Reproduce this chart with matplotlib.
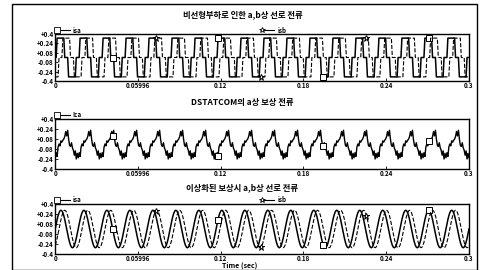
import numpy as np
import matplotlib
matplotlib.use("Agg")
import matplotlib.pyplot as plt
from matplotlib.lines import Line2D
from matplotlib.patches import Rectangle

plt.rcParams['font.family'] = ['Noto Sans CJK KR', 'DejaVu Sans']

# 60 Hz, 0 ~ 0.3 s -> 18 cycles
n_cycles = 18
t_end = 0.3

# one cycle of each waveform, 24 samples per cycle
isa_load = [0.0, 0.0, 0.33, 0.33, 0.33, 0.33, 0.33, 0.33, 0.33, 0.33, 0.0, 0.0,
            0.0, 0.0, -0.33, -0.33, -0.33, -0.33, -0.33, -0.33, -0.33, -0.33, 0.0, 0.0]
isb_load = [-0.33, -0.33, -0.33, -0.33, 0.0, 0.0, 0.0, 0.0, 0.33, 0.33, 0.33, 0.33,
            0.33, 0.33, 0.33, 0.33, 0.0, 0.0, 0.0, 0.0, -0.33, -0.33, -0.33, -0.33]
ica = [-0.22, -0.14, -0.20, -0.05, 0.00, -0.03, 0.05, 0.03, 0.06, 0.08, 0.12, 0.20,
       0.13, 0.22, 0.08, -0.02, -0.04, 0.02, -0.06, -0.10, -0.18, -0.11, -0.24, -0.15]
isa_comp = [0.0, 0.078, 0.15, 0.212, 0.26, 0.29, 0.30, 0.29, 0.26, 0.212, 0.15, 0.078,
            0.0, -0.078, -0.15, -0.212, -0.26, -0.29, -0.30, -0.29, -0.26, -0.212, -0.15, -0.078]
isb_comp = [-0.26, -0.212, -0.15, -0.078, 0.0, 0.078, 0.15, 0.212, 0.26, 0.29, 0.30, 0.29,
            0.26, 0.212, 0.15, 0.078, 0.0, -0.078, -0.15, -0.212, -0.26, -0.29, -0.30, -0.29]

titles = ["비선형부하로 인한 a,b상 선로 전류",
          "DSTATCOM의 a상 보상 전류",
          "이상화된 보상시 a,b상 선로 전류"]
yticks = [0.4, 0.24, 0.08, -0.08, -0.24, -0.4]
ytick_labels = ["+0.4", "+0.24", "+0.08", "-0.08", "-0.24", "-0.4"]
xticks = [0, 0.06, 0.12, 0.18, 0.24, 0.3]
xtick_labels = ["0", "0.05996", "0.12", "0.18", "0.24", "0.3"]


def series(cycle):
    y = np.array(cycle * n_cycles + cycle[:1])
    t = np.linspace(0, t_end, len(y))
    return t, y


fig = plt.figure(figsize=(4.8, 2.7), dpi=100)
fig.patches.append(Rectangle((12 / 480, 0), 465 / 480, 1 - 4 / 270, transform=fig.transFigure,
                             fill=False, lw=1.0, ec='black'))

# [left, bottom, width, height] in figure fraction
boxes = [[0.115, 1 - 81 / 270, 0.862, 47 / 270],
         [0.115, 1 - 169 / 270, 0.862, 50 / 270],
         [0.115, 1 - 254 / 270, 0.862, 50 / 270]]
title_y = [1 - 15 / 270, 1 - 102 / 270, 1 - 188 / 270]

panels = [[("isa", isa_load, '-', 's', 1.1), ("isb", isb_load, '--', '*', 0.8)],
          [("Ica", ica, '-', 's', 1.0)],
          [("isa", isa_comp, '-', 's', 1.1), ("isb", isb_comp, '--', '*', 0.8)]]

for i, box in enumerate(boxes):
    ax = fig.add_axes(box)
    for j, (name, cyc, ls, mk, lw) in enumerate(panels[i]):
        t, y = series(cyc)
        ax.plot(t, y, color='black', ls=ls, lw=lw, marker=mk, ms=4.5, mfc='white',
                mew=0.7, markevery=(60 + 45 * j, 110))
        lx = 0.005 if j == 0 else 0.5
        ax.add_line(Line2D([lx, lx + 0.03], [1.08, 1.08], transform=ax.transAxes, color='black',
                           lw=0.8, marker=mk, ms=4, mfc='white', mew=0.6, markevery=[0],
                           clip_on=False))
        ax.text(lx + 0.037, 1.08, name, transform=ax.transAxes, fontsize=4.5, va='center',
                fontweight='bold')
    ax.set_xlim(0, t_end)
    ax.set_ylim(-0.4, 0.4)
    ax.set_yticks(yticks)
    ax.set_yticklabels(ytick_labels)
    ax.set_xticks(xticks)
    ax.set_xticklabels(xtick_labels)
    ax.tick_params(direction='in', length=2, width=0.6, labelsize=4.5, pad=1)
    for lab in ax.get_xticklabels() + ax.get_yticklabels():
        lab.set_fontweight('bold')
    for sp in ax.spines.values():
        sp.set_linewidth(1.0)
    fig.text(0.505, title_y[i], titles[i], ha='center', va='center', fontsize=6,
             fontweight='bold')

fig.text(0.50, 0.002, "Time (sec)", ha='center', va='bottom', fontsize=5, fontweight='bold')

fig.savefig("out.png", dpi=100)
